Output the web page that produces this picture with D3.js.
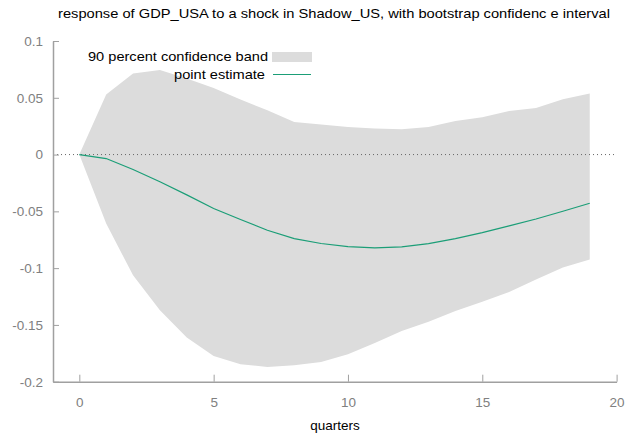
<!DOCTYPE html>
<html>
<head>
<meta charset="utf-8">
<script src="https://cdn.jsdelivr.net/npm/d3@7"></script>
<style>
  body { margin: 0; background: #fff; }
  svg { display: block; font-family: "Liberation Sans", Arial, sans-serif; }
</style>
</head>
<body>
<div id="chart"></div>
<script>
// data
var quarters = d3.range(0, 20);
var pointEstimate = [0, -0.0035, -0.0132, -0.024, -0.0355, -0.0475, -0.0572, -0.0666, -0.074, -0.0783,
  -0.0810, -0.0822, -0.0813, -0.0784, -0.074, -0.0687, -0.0628, -0.0567, -0.0499, -0.0429];
var bandUpper = [0, 0.0528, 0.0713, 0.0745, 0.0669, 0.0586, 0.0484, 0.039, 0.0287, 0.0264,
  0.0243, 0.0229, 0.0223, 0.0243, 0.0296, 0.0328, 0.0384, 0.041, 0.0487, 0.0537];
var bandLower = [0, -0.0608, -0.1063, -0.137, -0.161, -0.1773, -0.1846, -0.187, -0.1855, -0.1826,
  -0.1758, -0.166, -0.1553, -0.1473, -0.1377, -0.1297, -0.121, -0.110, -0.0995, -0.0924];
var xTicks = [0, 5, 10, 15, 20];
var yTicks = [-0.2, -0.15, -0.1, -0.05, 0, 0.05, 0.1];
var titleText = "response of GDP_USA to a shock in Shadow_US, with bootstrap confidenc e interval";

var width = 631, height = 439;
var m = {left: 53, right: 616.6, top: 41, bottom: 381.7};

var svg = d3.select("#chart").append("svg")
    .attr("width", width)
    .attr("height", height);

var x = d3.scaleLinear().domain([-0.98, 20]).range([m.left, m.right]);
var y = d3.scaleLinear().domain([-0.2, 0.1]).range([m.bottom, m.top]);

var rows = quarters.map(function(q, i) {
  return {q: q, est: pointEstimate[i], lo: bandLower[i], hi: bandUpper[i]};
});

// confidence band
svg.append("path")
    .attr("d", d3.area()
      .x(function(d) { return x(d.q); })
      .y0(function(d) { return y(d.lo); })
      .y1(function(d) { return y(d.hi); })(rows))
    .attr("fill", "#dcdcdc");

// zero line
svg.append("line")
    .attr("x1", m.left).attr("x2", m.right)
    .attr("y1", y(0)).attr("y2", y(0))
    .attr("stroke", "#666")
    .attr("stroke-width", 1)
    .attr("stroke-dasharray", "1,3");

// point estimate
svg.append("path")
    .attr("d", d3.line()
      .x(function(d) { return x(d.q); })
      .y(function(d) { return y(d.est); })(rows))
    .attr("fill", "none")
    .attr("stroke", "#1b9e77")
    .attr("stroke-width", 1.2);

// axes
var axisX = svg.append("g")
    .attr("transform", "translate(0," + m.bottom + ")")
    .call(d3.axisBottom(x).tickValues(xTicks).tickSizeInner(-7).tickSizeOuter(0).tickPadding(16).tickFormat(d3.format("d")));
var axisY = svg.append("g")
    .attr("transform", "translate(" + m.left + ",0)")
    .call(d3.axisLeft(y).tickValues(yTicks).tickSizeInner(-6).tickSizeOuter(0).tickPadding(10)
      .tickFormat(function(d) { return d === 0 ? "0" : String(+d.toFixed(2)); }));

[axisX, axisY].forEach(function(a) {
  a.select(".domain").attr("stroke", "#a0a0a0").attr("stroke-width", 1.5);
  a.selectAll(".tick line").attr("stroke", "#a0a0a0").attr("stroke-width", 1);
  a.selectAll(".tick text")
    .attr("fill", "#808080")
    .style("font-size", "13.5px")
    .style("font-family", "Liberation Sans, Arial, sans-serif");
});

// title and x label
svg.append("text")
    .attr("x", 334).attr("y", 18)
    .attr("text-anchor", "middle")
    .attr("textLength", 552)
    .attr("lengthAdjust", "spacingAndGlyphs")
    .style("font-size", "13px")
    .text(titleText);

svg.append("text")
    .attr("x", 335).attr("y", 430)
    .attr("text-anchor", "middle")
    .style("font-size", "13.5px")
    .text("quarters");

// legend
var legend = svg.append("g");
legend.append("text")
    .attr("x", 268).attr("y", 61)
    .attr("text-anchor", "end")
    .attr("textLength", 180)
    .attr("lengthAdjust", "spacingAndGlyphs")
    .style("font-size", "13.5px")
    .text("90 percent confidence band");
legend.append("rect")
    .attr("x", 272).attr("y", 52)
    .attr("width", 40).attr("height", 10)
    .attr("fill", "#dcdcdc");
legend.append("text")
    .attr("x", 265).attr("y", 79)
    .attr("text-anchor", "end")
    .attr("textLength", 91)
    .attr("lengthAdjust", "spacingAndGlyphs")
    .style("font-size", "13.5px")
    .text("point estimate");
legend.append("line")
    .attr("x1", 273).attr("x2", 311)
    .attr("y1", 74.5).attr("y2", 74.5)
    .attr("stroke", "#1b9e77")
    .attr("stroke-width", 1.2);
</script>
</body>
</html>
